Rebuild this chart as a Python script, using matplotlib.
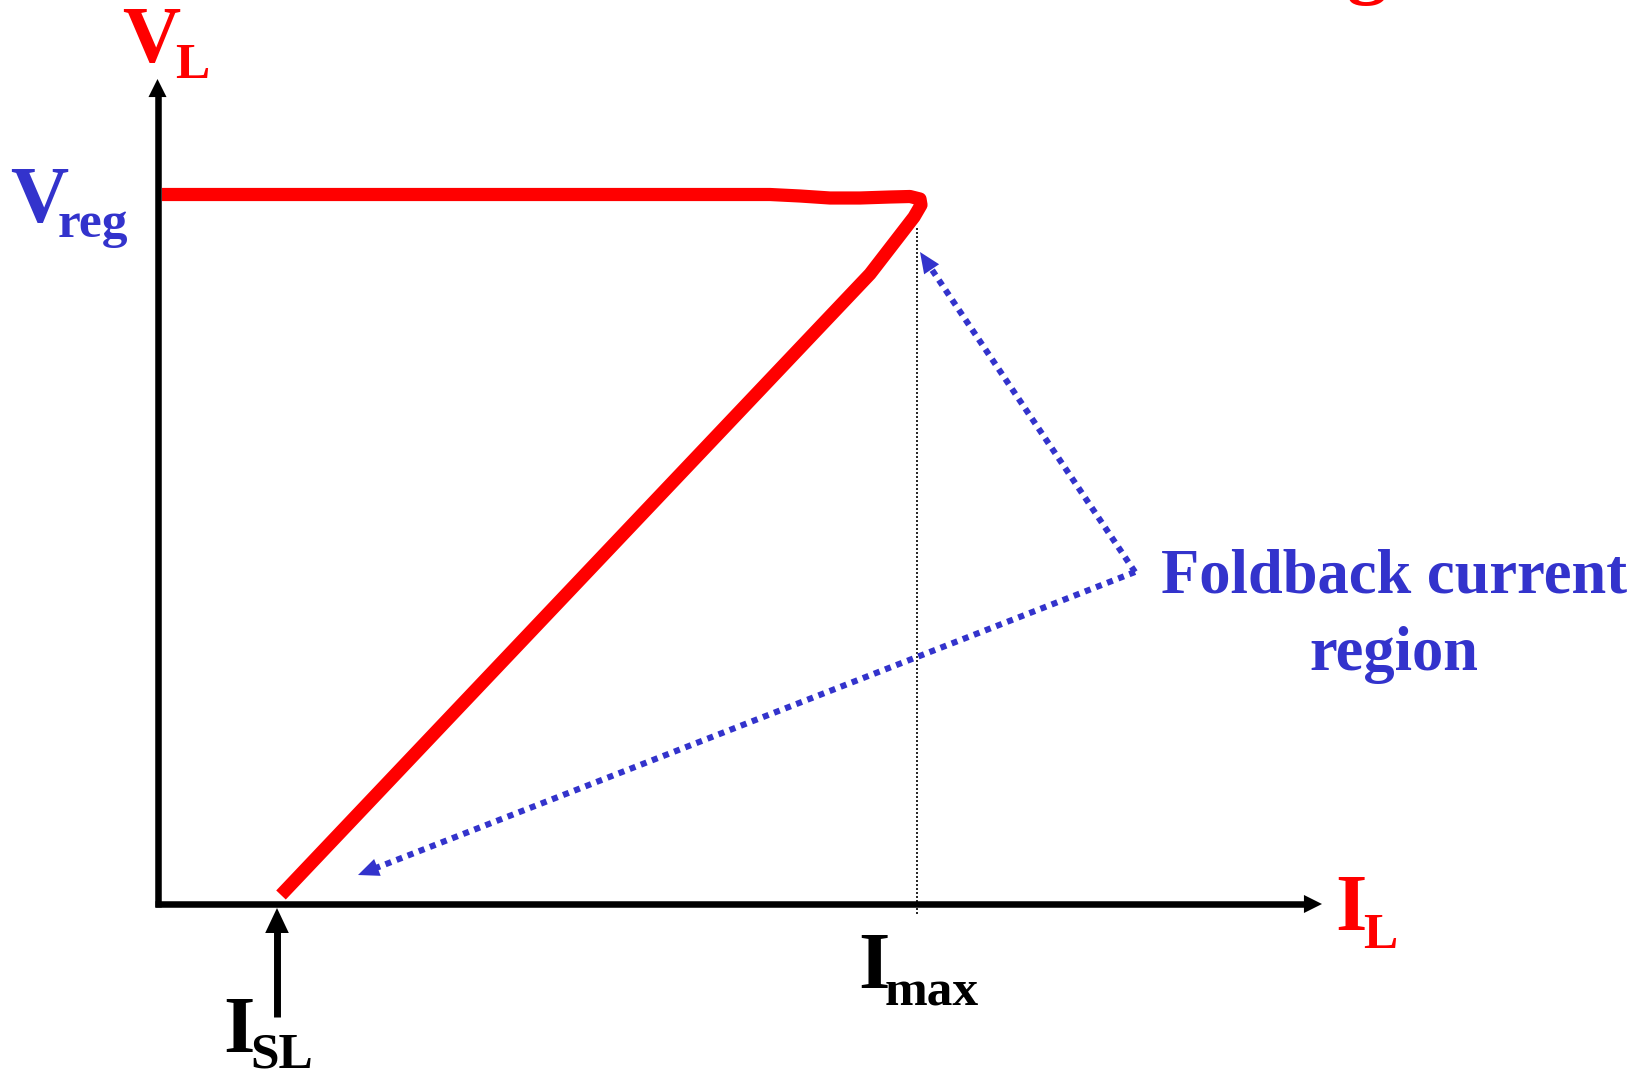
import matplotlib
matplotlib.use("Agg")
import matplotlib.pyplot as plt
import numpy as np

plt.rcParams['font.family'] = ['Liberation Serif', 'DejaVu Serif']

# load line (foldback characteristic), axis units: 1 unit = 100 px
curve_I = [0.045, 6.125, 6.425, 6.725, 7.025, 7.325, 7.525, 7.625, 7.635, 7.565, 7.125, 1.235]
curve_V = [7.095, 7.095, 7.08, 7.06, 7.06, 7.07, 7.075, 7.05, 6.99, 6.87, 6.30, 0.09]

I_max = 7.595
I_SL = 1.195
I_axis_end = 11.645
V_axis_end = 8.25

# foldback annotation arrows: common tail and two heads
fold_tail = (9.775, 3.32)
fold_heads = [(7.625, 6.52), (2.005, 0.29)]

RED = '#ff0000'
BLUE = '#3333cc'
PX = 0.01          # data units per pixel
PT = 100 / 72.0    # pixels per point

fig = plt.figure(figsize=(16.48, 10.73), dpi=100)
ax = fig.add_axes([0, 0, 1, 1])
ax.set_xlim(-1.575, 14.905)
ax.set_ylim(-1.69, 9.04)
ax.axis('off')


def arrow(ax, start, tip, color, lw, ls='-', head_len=13, head_w=13, z=3):
    # line up to the head base, filled head drawn on top
    start = np.array(start, float)
    tip = np.array(tip, float)
    d = tip - start
    d = d / np.hypot(*d)
    hl = head_len * PT * PX
    base = tip - d * hl * 0.8
    ax.plot([start[0], base[0]], [start[1], base[1]], color=color, lw=lw,
            ls=ls, solid_capstyle='butt', dash_capstyle='butt', zorder=z)
    ax.annotate('', xy=tip, xytext=tip - d * hl,
                arrowprops=dict(arrowstyle='-|>,head_length=%g,head_width=%g' % (head_len, head_w / 2.0),
                                mutation_scale=1, lw=0, color=color,
                                shrinkA=0, shrinkB=0), zorder=z + 1)


# axes
arrow(ax, (0, -0.03), (0, V_axis_end), 'black', 4.7, head_len=13, head_w=13)
arrow(ax, (-0.03, 0), (I_axis_end, 0), 'black', 4.7, head_len=13, head_w=13)

# I_max marker
ax.plot([I_max, I_max], [6.76, -0.11], color='black', lw=1.2,
        ls=(0, (1.2, 1.2)), zorder=2)

# I_SL marker arrow
arrow(ax, (I_SL, -1.13), (I_SL, -0.04), 'black', 5.0, head_len=18, head_w=17)

# load characteristic
ax.plot(curve_I, curve_V, color=RED, lw=9.5, solid_joinstyle='round',
        solid_capstyle='butt', zorder=5)

# foldback arrows
for head in fold_heads:
    arrow(ax, fold_tail, head, BLUE, 4.4, ls=(0, (1, 0.95)), head_len=15, head_w=13)

big = 58
sub = 37
tk = dict(fontweight='bold', ha='left', va='baseline')
ax.text(-0.355, 8.42, 'V', color=RED, fontsize=big, **tk)
ax.text(0.175, 8.26, 'L', color=RED, fontsize=sub, **tk)
ax.text(-1.475, 6.82, 'V', color=BLUE, fontsize=big, **tk)
ax.text(-0.995, 6.67, 'reg', color=BLUE, fontsize=sub, **tk)
ax.text(0.655, -1.48, 'I', color='black', fontsize=big, **tk)
ax.text(0.925, -1.64, 'SL', color='black', fontsize=sub, **tk)
ax.text(7.005, -0.84, 'I', color='black', fontsize=big, **tk)
ax.text(7.275, -1.01, 'max', color='black', fontsize=sub, **tk)
ax.text(11.775, -0.26, 'I', color=RED, fontsize=big, **tk)
ax.text(12.055, -0.44, 'L', color=RED, fontsize=sub, **tk)
ax.text(12.365, 3.11, 'Foldback current', color=BLUE, fontsize=45,
        fontweight='bold', ha='center', va='baseline')
ax.text(12.365, 2.34, 'region', color=BLUE, fontsize=45,
        fontweight='bold', ha='center', va='baseline')
# cut-off title tail at the top edge
ax.text(11.895, 9.15, 'g', color=RED, fontsize=big, **tk)

fig.savefig('out.png', dpi=100)
